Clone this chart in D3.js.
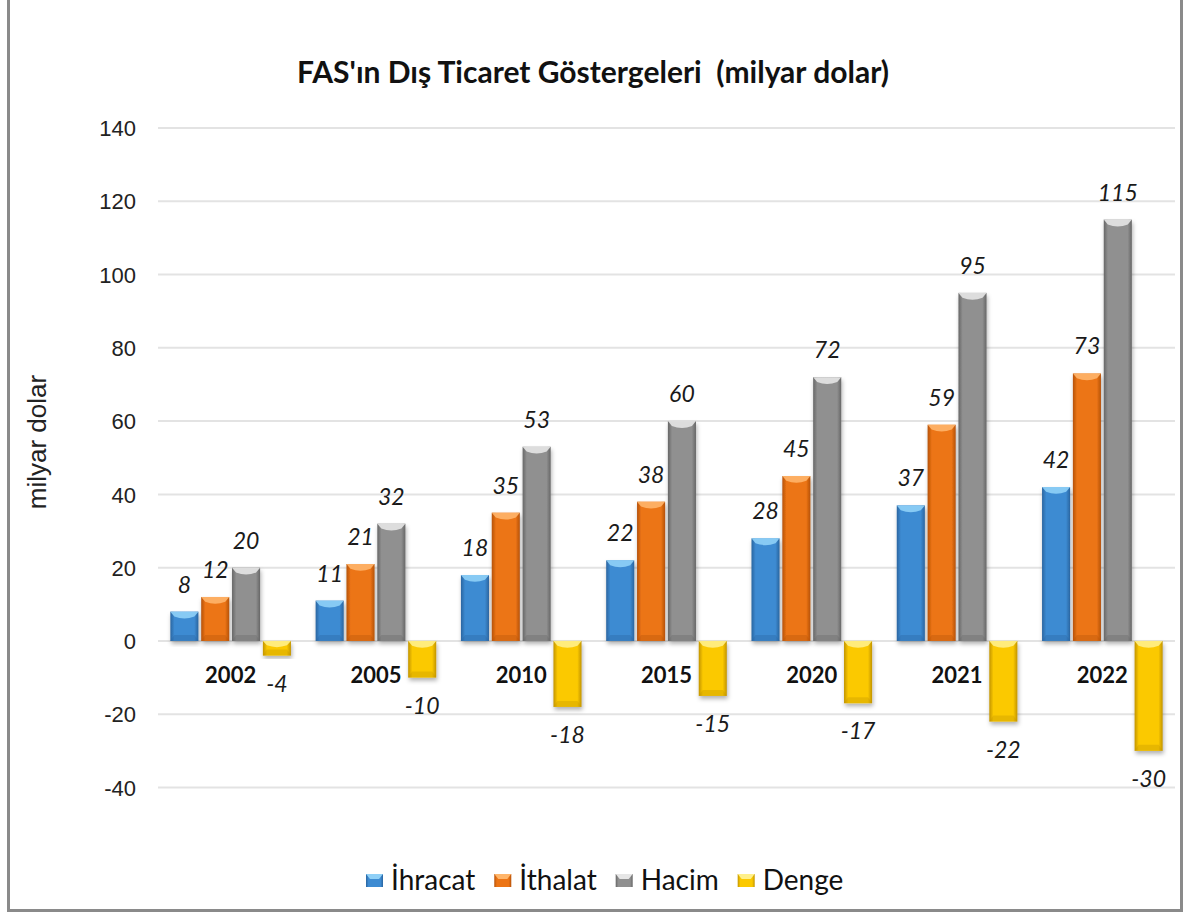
<!DOCTYPE html>
<html>
<head>
<meta charset="utf-8">
<script src="https://cdn.jsdelivr.net/npm/d3@7"></script>
<style>
  body { margin: 0; background: #fff; }
  svg { display: block; }
</style>
</head>
<body>
<div id="chart"></div>
<script>
// chart data
const years = ["2002", "2005", "2010", "2015", "2020", "2021", "2022"];
const seriesNames = ["İhracat", "İthalat", "Hacim", "Denge"];
const ihracat = [8, 11, 18, 22, 28, 37, 42];
const ithalat = [12, 21, 35, 38, 45, 59, 73];
const hacim = [20, 32, 53, 60, 72, 95, 115];
const denge = [-4, -10, -18, -15, -17, -22, -30];
const yTicks = [-40, -20, 0, 20, 40, 60, 80, 100, 120, 140];

const colors = [
  {base: "#3d8bd2", light: "#8fd0f7", dark: "#2a65a0"},
  {base: "#ec7414", light: "#ffb56a", dark: "#b5520a"},
  {base: "#909090", light: "#e6e6e6", dark: "#666666"},
  {base: "#fbc900", light: "#fff08a", dark: "#c29400"}
];

const W = 1185, H = 914;
const plotLeft = 158, plotRight = 1175;

const svg = d3.select("#chart").append("svg")
  .attr("width", W).attr("height", H);

const defs = svg.append("defs");
colors.forEach((c, i) => {
  const g = defs.append("linearGradient").attr("id", "grad" + i)
    .attr("x1", "0%").attr("x2", "100%").attr("y1", "0%").attr("y2", "0%");
  g.append("stop").attr("offset", "0%").attr("stop-color", c.dark);
  g.append("stop").attr("offset", "15%").attr("stop-color", c.base);
  g.append("stop").attr("offset", "85%").attr("stop-color", c.base);
  g.append("stop").attr("offset", "100%").attr("stop-color", c.dark);
});
const sh = defs.append("filter").attr("id", "shadow")
  .attr("x", "-20%").attr("y", "-20%").attr("width", "140%").attr("height", "140%");
sh.append("feDropShadow").attr("dx", 1).attr("dy", 3).attr("stdDeviation", 2)
  .attr("flood-color", "#000").attr("flood-opacity", 0.3);

// frame
svg.append("path")
  .attr("d", `M8.5,0 V910.5 H1181.5 V0`)
  .attr("fill", "none").attr("stroke", "#8a8a8a").attr("stroke-width", 3);

const x0 = d3.scaleBand().domain(years).range([plotLeft, plotRight]).padding(0);
const x1 = d3.scaleBand().domain(seriesNames).range([0, x0.bandwidth()])
  .paddingInner(0.09).paddingOuter(0.4);
const y = d3.scaleLinear().domain([-40, 140]).range([787.5, 128]);

// gridlines
svg.append("g").selectAll("line").data(yTicks).join("line")
  .attr("x1", plotLeft).attr("x2", plotRight)
  .attr("y1", d => y(d)).attr("y2", d => y(d))
  .attr("stroke", "#e3e3e3").attr("stroke-width", 2);

// y axis labels
const yAxis = d3.axisLeft(y).tickValues(yTicks).tickSize(0).tickPadding(0)
  .tickFormat(d => String(d));
svg.append("g").attr("transform", "translate(136,0)").call(yAxis)
  .call(g => g.select(".domain").remove())
  .selectAll("text")
  .attr("font-family", "Liberation Sans, Arial, sans-serif")
  .attr("font-size", 22).attr("fill", "#222").attr("dy", "0.35em");

svg.append("text")
  .attr("transform", "translate(46,442) rotate(-90)")
  .attr("text-anchor", "middle")
  .attr("font-family", "Liberation Sans, Arial, sans-serif")
  .attr("font-size", 26).attr("fill", "#222")
  .text("milyar dolar");

// title
svg.append("text")
  .attr("x", 593).attr("y", 83).attr("text-anchor", "middle")
  .attr("font-family", "Lato, sans-serif").attr("font-weight", "bold")
  .attr("font-size", 30).attr("fill", "#111")
  .attr("xml:space", "preserve")
  .text("FAS'ın Dış Ticaret Göstergeleri  (milyar dolar)");

const allSeries = [ihracat, ithalat, hacim, denge];
const rows = years.map((yr, i) => ({
  year: yr,
  vals: seriesNames.map((s, k) => ({series: s, k: k, v: allSeries[k][i]}))
}));

const groups = svg.append("g").selectAll("g").data(rows).join("g")
  .attr("transform", d => `translate(${x0(d.year)},0)`);

const bw = x1.bandwidth();
const bars = groups.selectAll("g.bar").data(d => d.vals).join("g").attr("class", "bar");

bars.append("rect")
  .attr("x", d => x1(d.series))
  .attr("y", d => Math.min(y(d.v), y(0)))
  .attr("width", bw)
  .attr("height", d => Math.abs(y(d.v) - y(0)))
  .attr("fill", d => `url(#grad${d.k})`)
  .attr("filter", "url(#shadow)");

// bevel on top edge (chevron highlight)
bars.append("path")
  .attr("d", d => {
    const xl = x1(d.series), top = Math.min(y(d.v), y(0));
    const h = Math.min(8, Math.abs(y(d.v) - y(0)) / 2);
    return `M${xl},${top} H${xl + bw} L${xl + bw - 4},${top + h * 0.6} Q${xl + bw / 2},${top + h * 1.1} ${xl + 4},${top + h * 0.6} Z`;
  })
  .attr("fill", d => colors[d.k].light).attr("opacity", 0.9);
// bevel on bottom edge
bars.append("path")
  .attr("d", d => {
    const xl = x1(d.series), bot = Math.max(y(d.v), y(0));
    const h = Math.min(6, Math.abs(y(d.v) - y(0)) / 2);
    return `M${xl},${bot} H${xl + bw} L${xl + bw - 4},${bot - h} H${xl + 4} Z`;
  })
  .attr("fill", d => colors[d.k].dark).attr("opacity", 0.35);

// value labels
groups.selectAll("text.val").data(d => d.vals).join("text")
  .attr("class", "val")
  .attr("x", d => x1(d.series) + bw / 2)
  .attr("y", d => d.v >= 0 ? y(d.v) - 19 : y(d.v) + 36)
  .attr("text-anchor", "middle")
  .attr("font-family", "Lato, sans-serif").attr("font-style", "italic")
  .attr("font-size", 23).attr("fill", "#1a1a1a")
  .text(d => d.v < 0 ? "-" + Math.abs(d.v) : d.v);

// category labels
groups.append("text")
  .attr("x", x0.bandwidth() / 2).attr("y", y(0) + 42)
  .attr("text-anchor", "middle")
  .attr("font-family", "Lato, sans-serif").attr("font-weight", "bold")
  .attr("font-size", 22).attr("fill", "#111")
  .text(d => d.year);

// legend
const legend = svg.append("g").attr("transform", "translate(0,880)");
let lx = 366;
seriesNames.forEach((s, k) => {
  const item = legend.append("g").attr("transform", `translate(${lx},0)`);
  item.append("rect").attr("x", 0).attr("y", -6).attr("width", 17).attr("height", 13)
    .attr("fill", `url(#grad${k})`);
  item.append("path").attr("d", "M0,-6 H17 L13,-1 H4 Z").attr("fill", colors[k].light);
  const t = item.append("text").attr("x", 25).attr("y", 10)
    .attr("font-family", "Lato, sans-serif").attr("font-size", 28).attr("fill", "#111")
    .text(s);
  lx += 25 + t.node().getComputedTextLength() + 19;
});
</script>
</body>
</html>
